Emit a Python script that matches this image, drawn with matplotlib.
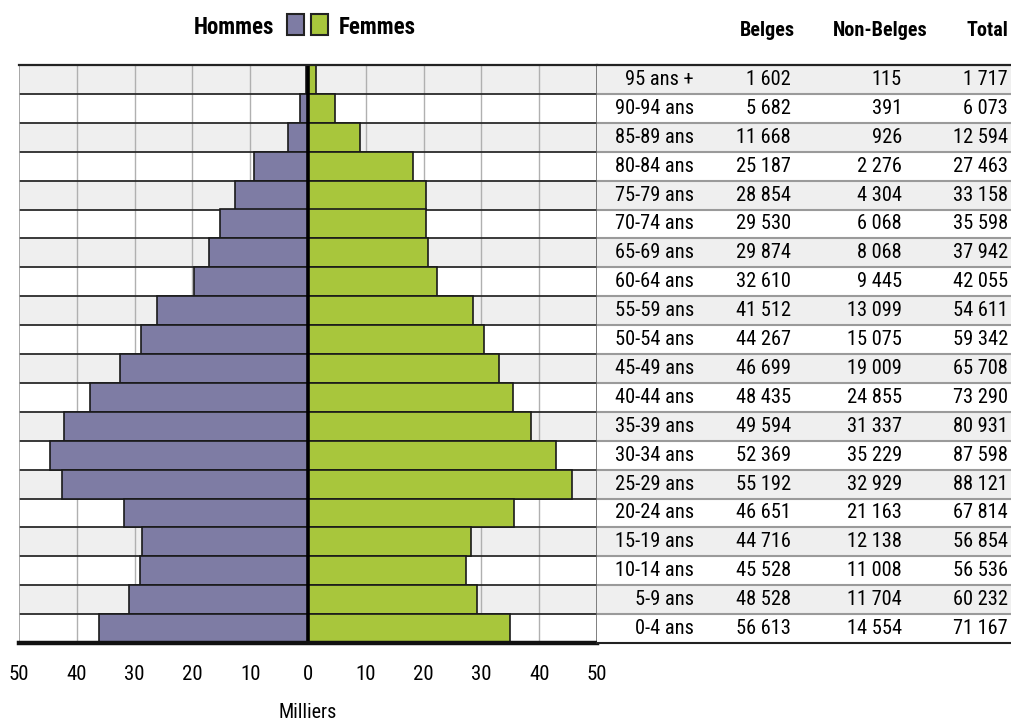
import matplotlib
matplotlib.use("Agg")
import matplotlib.pyplot as plt
from matplotlib.patches import Rectangle

plt.rcParams['font.family'] = ['Liberation Sans Narrow', 'Roboto Condensed', 'Roboto', 'DejaVu Sans']

ages = ["95 ans +", "90-94 ans", "85-89 ans", "80-84 ans", "75-79 ans", "70-74 ans",
        "65-69 ans", "60-64 ans", "55-59 ans", "50-54 ans", "45-49 ans", "40-44 ans",
        "35-39 ans", "30-34 ans", "25-29 ans", "20-24 ans", "15-19 ans", "10-14 ans",
        "5-9 ans", "0-4 ans"]
hommes = [0.3, 1.4, 3.5, 9.3, 12.6, 15.2, 17.2, 19.8, 26.1, 28.9, 32.5, 37.7,
          42.3, 44.6, 42.5, 31.9, 28.7, 29.1, 30.9, 36.2]
femmes = [1.4, 4.7, 9.0, 18.2, 20.5, 20.5, 20.7, 22.3, 28.5, 30.4, 33.1, 35.5,
          38.6, 42.9, 45.6, 35.7, 28.2, 27.4, 29.2, 35.0]
belges = [1602, 5682, 11668, 25187, 28854, 29530, 29874, 32610, 41512, 44267,
          46699, 48435, 49594, 52369, 55192, 46651, 44716, 45528, 48528, 56613]
non_belges = [115, 391, 926, 2276, 4304, 6068, 8068, 9445, 13099, 15075,
              19009, 24855, 31337, 35229, 32929, 21163, 12138, 11008, 11704, 14554]
total = [1717, 6073, 12594, 27463, 33158, 35598, 37942, 42055, 54611, 59342,
         65708, 73290, 80931, 87598, 88121, 67814, 56854, 56536, 60232, 71167]
x_ticks = [-50, -40, -30, -20, -10, 0, 10, 20, 30, 40, 50]
col_headers = ["Belges", "Non-Belges", "Total"]

C_H = '#7e7ca4'
C_F = '#a8c63c'
C_BAND = '#efefef'

W, H = 1012, 720
def fx(px):
    return px / W
def fy(py):
    return 1 - py / H

fig = plt.figure(figsize=(10.12, 7.2), dpi=100)

top_px, bot_px = 65, 643
left_px, mid_px, right_px = 19, 597, 1012

ax = fig.add_axes([fx(left_px), fy(bot_px), (mid_px - left_px) / W, (bot_px - top_px) / H])
axt = fig.add_axes([fx(mid_px), fy(bot_px), (right_px - mid_px) / W, (bot_px - top_px) / H])

n = len(ages)
ys = [n - 1 - i for i in range(n)]

for a in (ax, axt):
    a.set_ylim(-0.5, n - 0.5)
    for i, y in enumerate(ys):
        if i % 2 == 0:
            a.axhspan(y - 0.5, y + 0.5, color=C_BAND, lw=0, zorder=0)
    for s in a.spines.values():
        s.set_visible(False)
    a.set_yticks([])

ax.set_xlim(-50, 50)
axt.set_xlim(mid_px, right_px)
axt.set_xticks([])

# grid
for g in [-40, -30, -20, -10, 10, 20, 30, 40]:
    ax.axvline(g, color='#b0b0b0', lw=1.0, zorder=1)

# row separators
bounds = [k + 0.5 for k in range(n - 1)]
ax.hlines(bounds, -50, 50, color='#2a2a2a', lw=1.3, zorder=2)
axt.hlines(bounds, mid_px, right_px, color='#9a9a9a', lw=1.5, zorder=2)

# bars
ax.barh(ys, [-h for h in hommes], height=1.0, color=C_H, edgecolor='#1a1a1a', lw=1.2, zorder=3)
ax.barh(ys, femmes, height=1.0, color=C_F, edgecolor='#1a1a1a', lw=1.2, zorder=3)
ax.axvline(0, color='black', lw=2.6, zorder=4)

# borders
ax.axvline(-50, color='#9a9a9a', lw=1.2, zorder=2)
ax.axvline(50, color='#6a6a6a', lw=1.2, zorder=5)
ax.axhline(n - 0.5, color='#222222', lw=1.6, zorder=5, clip_on=False)
axt.axhline(n - 0.5, color='#222222', lw=1.6, zorder=5, clip_on=False)
ax.axhline(-0.5, color='#111111', lw=3.2, zorder=5, clip_on=False)
axt.axhline(-0.5, color='#222222', lw=1.5, zorder=5, clip_on=False)

# x ticks
ax.set_xticks(x_ticks)
ax.set_xticklabels([str(abs(t)) for t in x_ticks], fontsize=15)
ax.tick_params(axis='x', which='major', length=0, pad=16)
ax.set_xticks([-20, 20], minor=True)
ax.tick_params(axis='x', which='minor', length=9, width=1, color='#b0b0b0', direction='out')

fig.text(fx(308), fy(712), "Milliers", ha='center', va='center', fontsize=14.5)

# legend header
fig.text(fx(274), fy(27), "Hommes", ha='right', va='center', fontsize=16.5, fontweight='bold')
fig.text(fx(339), fy(27), "Femmes", ha='left', va='center', fontsize=16.5, fontweight='bold')
fig.patches.append(Rectangle((fx(287), fy(35)), 17 / W, 21 / H, transform=fig.transFigure,
                             facecolor=C_H, edgecolor='#222222', lw=1.5))
fig.patches.append(Rectangle((fx(311), fy(35)), 17 / W, 21 / H, transform=fig.transFigure,
                             facecolor=C_F, edgecolor='#222222', lw=1.5))

# table headers
for hdr, cx in zip(col_headers, [767, 880, 987]):
    fig.text(fx(cx), fy(30), hdr, ha='center', va='center', fontsize=14.5, fontweight='bold')

def fmt(v):
    return f"{v:,}".replace(",", " ")

TS = 14.7
for i, y in enumerate(ys):
    axt.text(694, y, ages[i], ha='right', va='center', fontsize=TS)
    axt.text(791, y, fmt(belges[i]), ha='right', va='center', fontsize=TS)
    axt.text(902, y, fmt(non_belges[i]), ha='right', va='center', fontsize=TS)
    axt.text(1008, y, fmt(total[i]), ha='right', va='center', fontsize=TS)

fig.savefig("out.png", dpi=100)
